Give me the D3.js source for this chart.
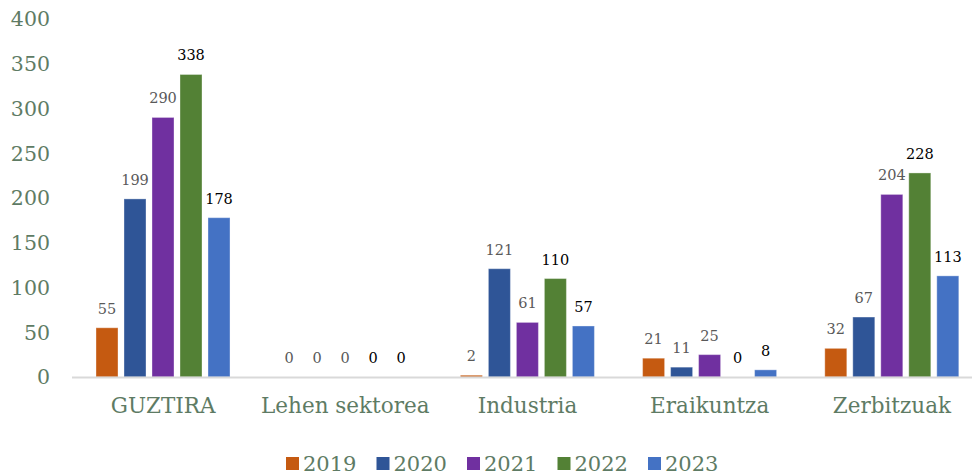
<!DOCTYPE html>
<html><head><meta charset="utf-8">
<script src="https://cdn.jsdelivr.net/npm/d3@7"></script>
<style>body{margin:0;background:#fff}svg{display:block}</style>
</head><body><svg id="c" width="972" height="476"></svg>
<script>
const categories = ["GUZTIRA","Lehen sektorea","Industria","Eraikuntza","Zerbitzuak"];
const years = ["2019","2020","2021","2022","2023"];
const v2019 = [55,0,2,21,32];
const v2020 = [199,0,121,11,67];
const v2021 = [290,0,61,25,204];
const v2022 = [338,0,110,0,228];
const v2023 = [178,0,57,8,113];
const yTicks = [0,50,100,150,200,250,300,350,400];
const colors = ["#C55A11","#2F5597","#7030A0","#538135","#4472C4"];
const labelColors = ["#595959","#595959","#595959","#000000","#000000"];
const series = [v2019,v2020,v2021,v2022,v2023];

const svg = d3.select("#c");
const font = "'DejaVu Serif', serif";
const axisColor = "#5E7B64";
const x0 = d3.scaleBand().domain(categories).range([72,983]).padding(0);
const x1 = d3.scaleBand().domain(years).range([21,161]).paddingInner(0.214).paddingOuter(0.107);
const y = d3.scaleLinear().domain([0,400]).range([377,19]);

// y tick labels
svg.append("g").selectAll("text").data(yTicks).join("text")
  .attr("x",50).attr("y",d=>y(d)).attr("dy","0.36em")
  .attr("text-anchor","end").attr("font-family",font).attr("font-size",20.5)
  .attr("fill",axisColor).text(d=>d);

// bars
const g = svg.append("g");
categories.forEach((c,ci)=>{
  years.forEach((yr,yi)=>{
    const v = series[yi][ci];
    const bx = x0(c)+x1(yr);
    if (v>0) {
      g.append("rect").attr("x",bx).attr("y",y(v)).attr("width",x1.bandwidth())
       .attr("height",y(0)-y(v)).attr("fill",colors[yi])
       .attr("stroke","#ffffff").attr("stroke-opacity",0.35).attr("stroke-width",1);
    }
    g.append("text").attr("x",bx+x1.bandwidth()/2).attr("y",y(v)-14)
     .attr("text-anchor","middle").attr("font-family",font).attr("font-size",14.5)
     .attr("fill",labelColors[yi]).text(v);
  });
});

// axis line
svg.append("line").attr("x1",72).attr("x2",972).attr("y1",y(0)+0.5).attr("y2",y(0)+0.5)
  .attr("stroke","#d9d9d9").attr("stroke-width",2);

// category labels
svg.append("g").selectAll("text").data(categories).join("text")
  .attr("x",d=>x0(d)+x0.bandwidth()/2).attr("y",413)
  .attr("text-anchor","middle").attr("font-family",font).attr("font-size",21.5)
  .attr("fill",axisColor).text(d=>d);

// legend
const lg = svg.append("g");
years.forEach((yr,i)=>{
  const lx = 286 + i*90.5;
  lg.append("rect").attr("x",lx).attr("y",457).attr("width",13).attr("height",13).attr("fill",colors[i]);
  lg.append("text").attr("x",lx+17).attr("y",471).attr("font-family",font).attr("font-size",21)
    .attr("fill",axisColor).text(yr);
});
</script></body></html>
